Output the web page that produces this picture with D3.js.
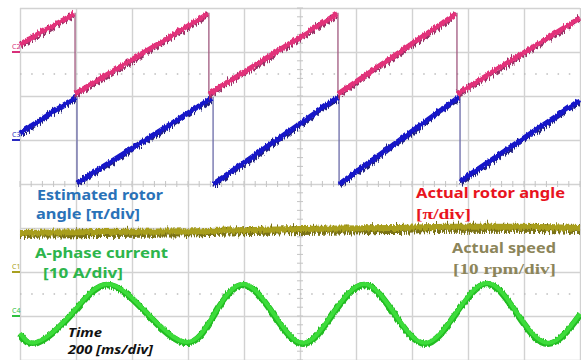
<!DOCTYPE html>
<html lang="en">
<head>
  <meta charset="UTF-8">
  <title>Sensorless drive waveforms</title>
  <script src="https://d3js.org/d3.v7.min.js"></script>
  <style>
    body { margin: 0; background: #fff; }
    svg { display: block; font-family: "Noto Sans", "DejaVu Sans", sans-serif; }
    .grid line { stroke: #d2d2d2; stroke-width: 1.4; }
    .grid .domain { display: none; }
    .lbl { font-weight: bold; }
  </style>
</head>
<body>
<div id="scope"></div>
<script>
// time in ms (200 ms/div), values in screen divisions (0 = centre line)
const timeTicks = [0, 200, 400, 600, 800, 1000, 1200, 1400, 1600, 1800, 2000];
const divTicks = [-4, -3, -2, -1, 0, 1, 2, 3, 4];

// actual rotor angle (C2): ramps between wraps
const actualAngle = [
  [[0, 3.20], [193, 3.89]],
  [[196, 2.07], [671, 3.89]],
  [[675, 2.07], [1132, 3.89]],
  [[1136, 2.07], [1557, 3.89]],
  [[1561, 2.07], [2000, 3.80]]
];
// estimated rotor angle (C3)
const estAngle = [
  [[0, 1.18], [200, 2.00]],
  [[204, 0.05], [686, 1.98]],
  [[690, 0.02], [1136, 2.00]],
  [[1140, 0.02], [1568, 2.00]],
  [[1572, 0.09], [2000, 1.93]]
];
// actual speed (C1)
const speedT = [0, 286, 643, 1000, 1321, 1536, 1786, 2000];
const speedV = [-1.09, -1.07, -1.05, -1.00, -0.98, -0.95, -0.95, -0.98];
// A-phase current (C4)
const curT = [0, 61, 186, 311, 454, 596, 696, 796, 904, 1011, 1118, 1229, 1336, 1446, 1557, 1668, 1775, 1886, 2000];
const curV = [-3.39, -3.59, -2.93, -2.27, -2.93, -3.59, -2.93, -2.27, -2.93, -3.61, -2.93, -2.27, -2.93, -3.61, -2.93, -2.25, -2.93, -3.61, -2.95];

const W = 581, H = 360;
const svg = d3.select("#scope").append("svg").attr("width", W).attr("height", H);

const x = d3.scaleLinear().domain([0, 2000]).range([20, 580]);
const y = d3.scaleLinear().domain([-4, 4]).range([360, 8]);

// noise filters (vertical jitter only)
const defs = svg.append("defs");
function jitter(id, freq, scale, seed) {
  const f = defs.append("filter").attr("id", id)
    .attr("filterUnits", "userSpaceOnUse")
    .attr("x", 0).attr("y", 0).attr("width", W).attr("height", H);
  f.append("feTurbulence").attr("type", "turbulence")
    .attr("baseFrequency", freq).attr("numOctaves", 2).attr("seed", seed).attr("result", "n");
  f.append("feColorMatrix").attr("in", "n").attr("type", "matrix")
    .attr("values", "0 0 0 0 0.5  0 1 0 0 0  0 0 1 0 0  0 0 0 0 1").attr("result", "m");
  f.append("feDisplacementMap").attr("in", "SourceGraphic").attr("in2", "m")
    .attr("scale", scale).attr("xChannelSelector", "R").attr("yChannelSelector", "G");
}
jitter("spk", "0.8 0.03", 12, 7);
jitter("fine", "0.6 0.05", 4, 3);

// graticule
svg.append("g").attr("class", "grid")
  .attr("transform", `translate(0,${y(-4)})`)
  .call(d3.axisBottom(x).tickValues(timeTicks).tickSize(-(y(-4) - y(4))).tickFormat(""));
svg.append("g").attr("class", "grid")
  .attr("transform", `translate(${x(0)},0)`)
  .call(d3.axisLeft(y).tickValues(divTicks).tickSize(-(x(2000) - x(0))).tickFormat(""));

// minor ticks on centre lines
const g = svg.append("g").attr("stroke", "#c4c4c4").attr("stroke-width", 1);
g.selectAll(".mx").data(d3.range(0, 2001, 40)).join("line")
  .attr("x1", d => x(d)).attr("x2", d => x(d))
  .attr("y1", y(0) - 3).attr("y2", y(0) + 3);
g.selectAll(".my").data(d3.range(-4, 4.01, 0.2)).join("line")
  .attr("y1", d => y(d)).attr("y2", d => y(d))
  .attr("x1", x(1000) - 3).attr("x2", x(1000) + 3);

// dotted reference lines
[2.5, -2.5].forEach(v => {
  svg.append("line").attr("x1", x(0)).attr("x2", x(2000))
    .attr("y1", y(v)).attr("y2", y(v))
    .attr("stroke", "#bdbdbd").attr("stroke-width", 1.4)
    .attr("stroke-dasharray", "1.5,9.7");
});

const line = d3.line().x(d => x(d[0])).y(d => y(d[1]));

function drawRamps(data, dark, core, dropCol) {
  // wrap lines
  data.slice(0, -1).forEach((seg, i) => {
    const end = seg[1], nxt = data[i + 1][0];
    svg.append("line")
      .attr("x1", x(end[0]) + 1).attr("x2", x(end[0]) + 1)
      .attr("y1", y(end[1])).attr("y2", y(nxt[1]))
      .attr("stroke", dropCol).attr("stroke-width", 1.3);
  });
  const grp = svg.append("g");
  grp.selectAll(".s").data(data).join("path")
    .attr("d", line).attr("fill", "none")
    .attr("stroke", dark).attr("stroke-width", 3.5).attr("filter", "url(#spk)");
  grp.selectAll(".c").data(data).join("path")
    .attr("d", line).attr("fill", "none")
    .attr("stroke", core).attr("stroke-width", 5).attr("filter", "url(#fine)");
}

drawRamps(estAngle, "#222280", "#1414c8", "#6a6aa8");
drawRamps(actualAngle, "#963266", "#e2307a", "#a0587e");

// speed
const speed = speedT.map((t, i) => [t, speedV[i]]);
const sLine = d3.line().x(d => x(d[0])).y(d => y(d[1])).curve(d3.curveMonotoneX);
svg.append("path").attr("d", sLine(speed)).attr("fill", "none")
  .attr("stroke", "#7a7214").attr("stroke-width", 6).attr("filter", "url(#spk)");
svg.append("path").attr("d", sLine(speed)).attr("fill", "none")
  .attr("stroke", "#a89e1e").attr("stroke-width", 6).attr("filter", "url(#fine)");

// current
const cur = curT.map((t, i) => [t, curV[i]]);
const cLine = d3.line().x(d => x(d[0])).y(d => y(d[1])).curve(d3.curveNatural);
svg.append("path").attr("d", cLine(cur)).attr("fill", "none")
  .attr("stroke", "#22bc22").attr("stroke-width", 6.5).attr("filter", "url(#fine)");
svg.append("path").attr("d", cLine(cur)).attr("fill", "none")
  .attr("stroke", "#3cdc3a").attr("stroke-width", 4);

// channel markers
const marks = [["C2", 3.0, "#d8307a"], ["C3", 1.0, "#2a2ac0"], ["C1", -2.0, "#a8a020"], ["C4", -3.0, "#30c040"]];
marks.forEach(([t, v, c]) => {
  svg.append("line").attr("x1", 12).attr("x2", 20).attr("y1", y(v)).attr("y2", y(v))
    .attr("stroke", c).attr("stroke-width", 2);
  svg.append("text").attr("x", 12).attr("y", y(v) - 3).attr("font-size", 7)
    .attr("fill", c).text(t);
});

// annotations
function label(str, px, py, w, size, col, extra) {
  const t = svg.append("text").attr("class", "lbl").attr("x", px).attr("y", py)
    .attr("font-size", size).attr("fill", col).text(str)
    .attr("textLength", w).attr("lengthAdjust", "spacingAndGlyphs");
  if (extra) extra(t);
  return t;
}
label("Estimated rotor", 37, 200, 126, 15, "#2a72b8");
label("angle [\u03c0/div]", 36, 219, 104, 15, "#2a72b8");
label("A-phase current", 35, 258, 133, 15, "#2db54c");
label("[10 A/div]", 43, 278, 80, 15, "#2db54c");
label("Actual rotor angle", 416, 198, 149, 15, "#e8141e");
label("[\u03c0/div]", 416, 219, 55, 15, "#e8141e", t => t.attr("font-family", "Liberation Serif, serif"));
label("Actual speed", 452, 253, 104, 15, "#8c855a");
label("[10 rpm/div]", 453, 274, 103, 15, "#8c855a", t => t.attr("font-family", "Liberation Serif, serif"));
label("Time", 68, 337, 34, 12, "#111", t => t.attr("font-style", "italic").attr("font-weight", "normal"));
label("200 [ms/div]", 68, 354, 85, 12, "#111", t => t.attr("font-style", "italic").attr("font-weight", "normal"));
</script>
</body>
</html>
